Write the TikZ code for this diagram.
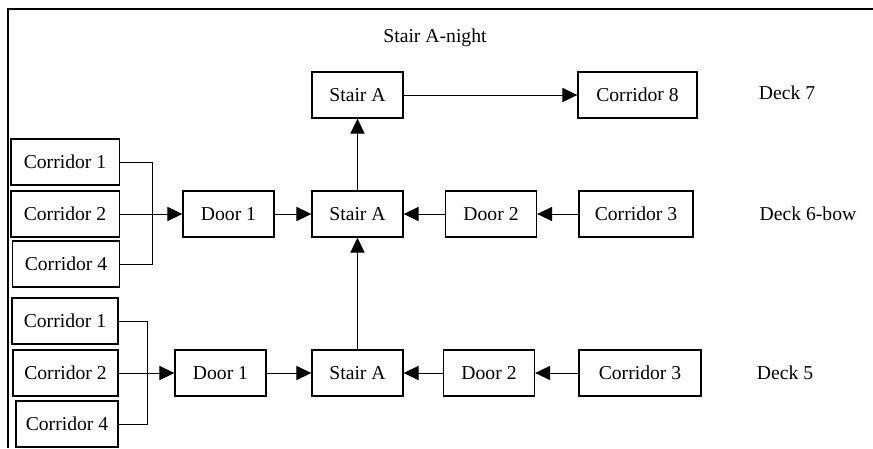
\documentclass[tikz,border=0pt]{standalone}
\usepackage{fontspec}
\setmainfont{Liberation Serif}
\usetikzlibrary{arrows.meta,positioning}
\tikzstyle{arrow} = [line width=0.6pt,-{Triangle[length=9pt,width=8.5pt]}]
\tikzstyle{line} = [line width=0.6pt]
\tikzstyle{room} = [rectangle, draw, line width=0.8pt, minimum width=54.6pt, minimum height=27.6pt, inner sep=1pt, text centered]
\tikzstyle{corridor} = [room, minimum width=65pt]
\tikzstyle{deck} = [inner sep=0pt]

\begin{document}
\begin{tikzpicture}[x=0.6pt, y=-0.6pt, font=\fontsize{11.8}{14}\selectfont]
\useasboundingbox (0,0) rectangle (873,448);
% frame
\draw[line width=1.6pt] (873,9) -- (8,9) -- (8,448);
\node (title) [deck] at (435,38) {Stair A-night};

% Deck 7
\node (stair7) [room] at (357.5,95) {Stair A};
\node (corr8) [corridor, minimum width=71.4pt] at (637.5,95) {Corrido\raisebox{0.6pt}{r} 8};
\node (deck7) [deck] at (787,93) {Deck 7};

% Deck 6-bow
\node (c61) [corridor] at (65,162) {Corridor 1};
\node (c62) [corridor] at (65,214) {Corridor 2};
\node (c64) [corridor, minimum width=64pt] at (66,264) {Corridor 4};
\node (door61) [room] at (228.5,214) {Door 1};
\node (stair6) [room] at (357.5,214) {Stair A};
\node (door62) [room] at (491,214) {Door 2};
\node (c63) [corridor, minimum width=68.4pt] at (636,214) {Corridor 3};
\node (deck6) [deck] at (808,214) {Deck 6-bow};
\coordinate (join6) at (152,214);

% Deck 5
\node (c51) [corridor, minimum width=63.6pt] at (65,321) {Corridor 1};
\node (c52) [corridor, minimum width=63pt] at (65.5,373) {Corridor 2};
\node (c54) [corridor, minimum width=61.2pt] at (67,424) {Corridor 4};
\node (door51) [room] at (220.5,373) {Door 1};
\node (stair5) [room] at (357.5,373) {Stair A};
\node (door52) [room] at (489,373) {Door 2};
\node (c53) [corridor, minimum width=73.2pt] at (640,373) {Corridor 3};
\node (deck5) [deck] at (785,373) {Deck 5};
\coordinate (join5) at (147,373);

% connectors
\draw[arrow] (stair7) -- (corr8);
\draw[line] (c61.east) -| (join6);
\draw[line] (c64.east) -| (join6);
\draw[arrow] (c62) -- (door61);
\draw[arrow] (door61) -- (stair6);
\draw[arrow] (door62) -- (stair6);
\draw[arrow] (c63) -- (door62);
\draw[arrow] (stair6) -- (stair7);

\draw[line] (c51.east) -| (join5);
\draw[line] (c54.east) -| (join5);
\draw[arrow] (c52) -- (door51);
\draw[arrow] (door51) -- (stair5);
\draw[arrow] (door52) -- (stair5);
\draw[arrow] (c53) -- (door52);
\draw[arrow] (stair5) -- (stair6);
\end{tikzpicture}
\end{document}
